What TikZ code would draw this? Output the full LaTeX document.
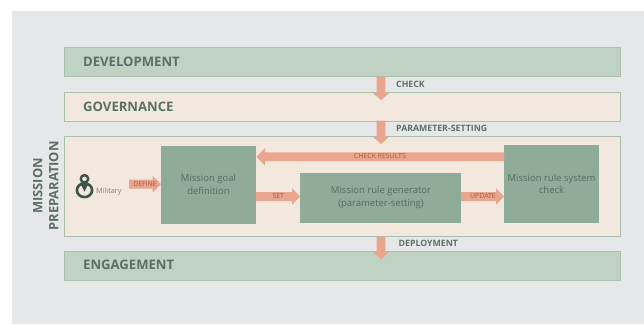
\documentclass[tikz,border=0pt]{standalone}
\usepackage{fontspec}
\setmainfont{Open Sans}
\definecolor{bggray}{HTML}{E6E7E9}
\definecolor{sage}{HTML}{C0D2C3}
\definecolor{sageline}{HTML}{A9C2AF}
\definecolor{cream}{HTML}{F2E8DE}
\definecolor{boxgreen}{HTML}{8FAC98}
\definecolor{salmon}{HTML}{E9A58E}
\definecolor{dark}{HTML}{5E7066}
\definecolor{boxtext}{HTML}{566B5F}
\definecolor{arrowtext}{HTML}{A85C44}
\definecolor{icon}{HTML}{3F5549}
\tikzset{
  band/.style={draw=sageline,line width=0.9pt,anchor=north west,inner sep=0pt},
  bandtitle/.style={text=dark,font=\fontsize{13.1}{15}\selectfont\bfseries,anchor=west,inner sep=0pt},
  small/.style={text=dark,font=\fontsize{8.75}{10}\selectfont\bfseries,anchor=west,inner sep=0pt},
  stepbox/.style={fill=boxgreen,anchor=north west,inner sep=0pt},
  boxlabel/.style={text=boxtext,align=center,inner sep=0pt,font=\fontsize{9.5}{12.6}\selectfont},
  arrowlabel/.style={text=arrowtext,font=\fontsize{6.9}{8}\selectfont,inner sep=0pt},
  fat/.style={fill=salmon,draw=none},
}
\begin{document}
\begin{tikzpicture}[x=1pt,y=-1pt]
\useasboundingbox (0,0) rectangle (644,324);
\fill[bggray] (12,11) rectangle (644,324);
% bands
\node[band,fill=sage,minimum width=556pt,minimum height=29.5pt] (dev) at (64,46.5) {};
\node[band,fill=cream,minimum width=556pt,minimum height=29pt] (gov) at (64,91.5) {};
\node[band,fill=cream,minimum width=556pt,minimum height=100pt] (prep) at (64,136) {};
\node[band,fill=sage,minimum width=556pt,minimum height=29pt] (eng) at (64,251) {};
\node[bandtitle] (devt) at (83,62) {DEVELOPMENT};
\node[bandtitle] (govt) at (83,106.5) {GOVERNANCE};
\node[bandtitle] (engt) at (83,265) {ENGAGEMENT};
\node[text=dark,font=\fontsize{12.9}{16}\selectfont\bfseries,align=center,rotate=90,inner sep=0pt] (prept) at (45.8,186) {MISSION\\PREPARATION};
% boxes
\node[stepbox,minimum width=95pt,minimum height=78pt] (goal) at (161,146) {};
\node[stepbox,minimum width=161pt,minimum height=50pt] (gen) at (300,173) {};
\node[stepbox,minimum width=95pt,minimum height=78pt] (sys) at (504,145) {};
\node[boxlabel] (goalt) at (208.5,184.5) {Mission goal\\definition};
\node[boxlabel] (gent) at (381,197.5) {Mission rule generator\\(parameter-setting)};
\node[boxlabel] (syst) at (551.5,184) {Mission rule system\\check};
% vertical arrows
\fill[fat] (376.7,76.5) -- (385.3,76.5) -- (385.3,93) -- (389.3,93) -- (381,100) -- (372.7,93) -- (376.7,93) -- cycle;
\fill[fat] (376.7,120.5) -- (385.3,120.5) -- (385.3,136.5) -- (389.3,136.5) -- (381,144) -- (372.7,136.5) -- (376.7,136.5) -- cycle;
\fill[fat] (376.7,236.5) -- (385.3,236.5) -- (385.3,251.5) -- (389.3,251.5) -- (381,259.5) -- (372.7,251.5) -- (376.7,251.5) -- cycle;
\node[small] (c1) at (396,84.5) {CHECK};
\node[small] (c2) at (396,128) {PARAMETER-SETTING};
\node[small] (c3) at (398.5,243.5) {DEPLOYMENT};
% horizontal arrows
\fill[fat] (504,152.3) -- (265,152.3) -- (265,148) -- (256.5,156.7) -- (265,165.5) -- (265,161) -- (504,161) -- cycle;
\fill[fat] (129,179.7) -- (152.7,179.7) -- (152.7,176) -- (161,184.2) -- (152.7,192.5) -- (152.7,188.7) -- (129,188.7) -- cycle;
\fill[fat] (256,192) -- (292,192) -- (292,188.2) -- (300,196.5) -- (292,204.8) -- (292,201) -- (256,201) -- cycle;
\fill[fat] (461,192) -- (496,192) -- (496,188.2) -- (504,196.5) -- (496,204.8) -- (496,201) -- (461,201) -- cycle;
\node[arrowlabel] (l1) at (380,156.5) {CHECK RESULTS};
\node[arrowlabel] (l2) at (145,184.2) {DEFINE};
\node[arrowlabel] (l3) at (278.3,196.5) {SET};
\node[arrowlabel] (l4) at (483,196.5) {UPDATE};
% icon
\draw[icon,line width=2.4pt] (84.5,178.8) circle (3.7);
\draw[icon,line width=2.6pt] (84.5,190.2) ellipse (7.6 and 6.9);
\fill[icon] (80.5,183.5) -- (88.5,183.5) -- (84.5,191.5) -- cycle;
\node[text=dark!85,font=\fontsize{7.3}{8}\selectfont,anchor=west,inner sep=0pt] (mil) at (96,191.5) {Military};
\end{tikzpicture}
\end{document}
